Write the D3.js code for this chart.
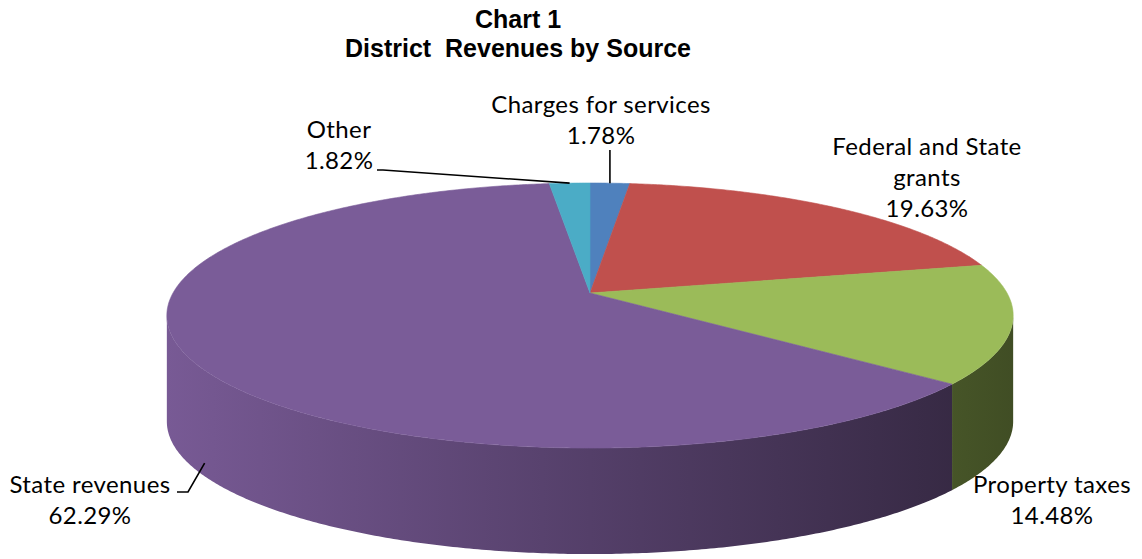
<!DOCTYPE html>
<html>
<head>
<meta charset="utf-8">
<script src="https://cdn.jsdelivr.net/npm/d3@7"></script>
<style>
  html, body { margin: 0; padding: 0; background: #fff; }
  svg { display: block; }
</style>
</head>
<body>
<div id="chart"></div>
<script>
// data
const categories = ['Charges for services', 'Federal and State grants', 'Property taxes', 'State revenues', 'Other'];
const shares = [1.78, 19.63, 14.48, 62.29, 1.82];
const labelNames = [['Charges for services'], ['Federal and State', 'grants'], ['Property taxes'], ['State revenues'], ['Other']];
const sliceColors = ['#4f81bd', '#c0504d', '#9bbb59', '#7a5c98', '#4bacc6'];
const titleLines = ['Chart 1', 'District  Revenues by Source'];

const width = 1142, height = 559;

// 3d pie geometry (perspective ellipse)
const cx = 590, cy = 293;
const rx = 417, ry = 128.7, persp = 0.17, depth = 106;

// label layout: centre x, first baseline y, leader flag
const labelLayout = [
    {x: 601, y: 113, leader: 'up'},
    {x: 927, y: 155, leader: null},
    {x: 1052, y: 493, leader: null},
    {x: 90, y: 493, leader: 'state'},
    {x: 339, y: 138, leader: 'other'}
];
const lineGap = 31;

const svg = d3.select('#chart').append('svg')
    .attr('width', width)
    .attr('height', height);

const proj = (a, r = 1, dz = 0) => {
    const u = r * Math.sin(a), v = r * Math.cos(a);
    const w = 1 + persp * v;
    return [cx + rx * u / w, cy - ry * v / w + dz];
};

const pie = d3.pie().sort(null).startAngle(0).endAngle(2 * Math.PI);
const arcs = pie(shares);

const line = d3.line();
const step = Math.PI / 360;
const rimPoints = (a0, a1, dz = 0) => {
    const n = Math.max(2, Math.ceil((a1 - a0) / step));
    return d3.range(n + 1).map(i => proj(a0 + (a1 - a0) * i / n, 1, dz));
};

// visible front wall limits (silhouette where x is extreme)
const wallFrom = Math.acos(-persp);
const wallTo = 2 * Math.PI - wallFrom;

const defs = svg.append('defs');

// side walls
arcs.forEach((d, i) => {
    const a0 = Math.max(d.startAngle, wallFrom);
    const a1 = Math.min(d.endAngle, wallTo);
    if (a1 <= a0) return;
    const base = d3.color(sliceColors[i]);
    const grad = defs.append('linearGradient')
        .attr('id', 'wall' + i)
        .attr('gradientUnits', 'userSpaceOnUse')
        .attr('x1', cx - rx * 1.02).attr('x2', cx + rx * 1.02)
        .attr('y1', 0).attr('y2', 0);
    grad.append('stop').attr('offset', 0).attr('stop-color', base.darker(0.05));
    grad.append('stop').attr('offset', 0.5).attr('stop-color', base.darker(1.05));
    grad.append('stop').attr('offset', 1).attr('stop-color', base.darker(2.5));
    const top = rimPoints(a0, a1);
    const bottom = rimPoints(a0, a1, depth).reverse();
    svg.append('path')
        .attr('d', line(top.concat(bottom)) + 'Z')
        .attr('fill', `url(#wall${i})`);
});

// top faces
arcs.forEach((d, i) => {
    const pts = [[cx, cy]].concat(rimPoints(d.startAngle, d.endAngle));
    svg.append('path')
        .attr('d', line(pts) + 'Z')
        .attr('fill', sliceColors[i])
        .attr('stroke', sliceColors[i])
        .attr('stroke-width', 0.6);
});

// title
svg.append('g')
    .selectAll('text')
    .data(titleLines)
    .join('text')
    .attr('x', 518)
    .attr('y', (d, i) => 28 + i * 29)
    .attr('text-anchor', 'middle')
    .attr('font-family', 'Liberation Sans, Arial, sans-serif')
    .attr('font-weight', 'bold')
    .attr('font-size', 25)
    .style('white-space', 'pre')
    .attr('fill', '#000')
    .text(d => d);

// data labels
const fmt = d3.format('.2f');
arcs.forEach((d, i) => {
    const pos = labelLayout[i];
    const lines = labelNames[i].concat([fmt(shares[i]) + '%']);
    svg.append('g')
        .selectAll('text')
        .data(lines)
        .join('text')
        .attr('x', pos.x)
        .attr('y', (t, j) => pos.y + j * lineGap)
        .attr('text-anchor', 'middle')
        .attr('font-family', 'Lato, sans-serif')
        .attr('font-size', 24)
        .attr('letter-spacing', 0.4)
        .attr('fill', '#000')
        .text(t => t);

    const mid = (d.startAngle + d.endAngle) / 2;
    let pts = null;
    if (pos.leader === 'up') {
        const p = proj(mid);
        pts = [[p[0], pos.y + lineGap + 6], p];
    } else if (pos.leader === 'other') {
        const p = proj(mid);
        pts = [[pos.x + 38, pos.y + lineGap + 1], [pos.x + 44, pos.y + lineGap + 1], p];
    } else if (pos.leader === 'state') {
        const p = proj(mid, 0.97, depth - 1);
        pts = [[pos.x + 87, pos.y - 1], [pos.x + 98, pos.y - 1], p];
    }
    if (pts) {
        svg.append('path')
            .attr('d', line(pts))
            .attr('fill', 'none')
            .attr('stroke', '#000')
            .attr('stroke-width', 1.6);
    }
});
</script>
</body>
</html>
